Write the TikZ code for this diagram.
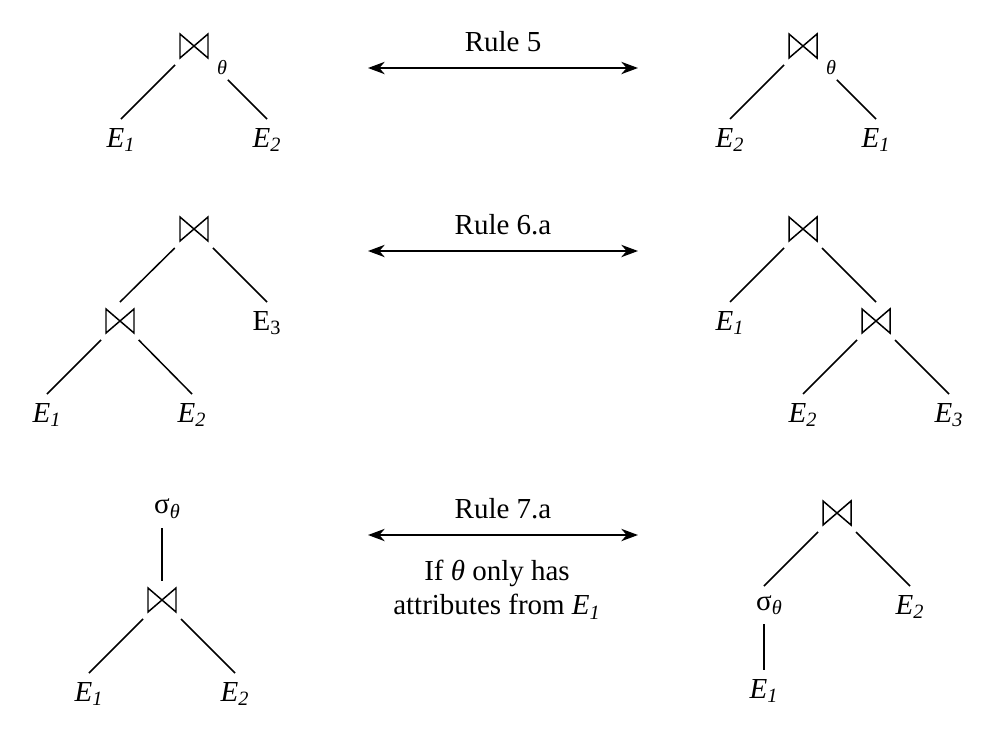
\documentclass[tikz,border=0pt]{standalone}
\usepackage{fontspec}
\setmainfont{Liberation Serif}
\usetikzlibrary{arrows.meta}

\newcommand\rel[2]{\textit{#1}\textsubscript{\textit{#2}}}
\newcommand\sel{σ\rlap{\textsubscript{\textit{θ}}}}
\newcommand\joinmark[1]{%
  \draw[tiemark] ([shift={(-14,-12)}]#1.center) -- ([shift={(-14,12)}]#1.center)
    -- ([shift={(14,-12)}]#1.center) -- ([shift={(14,12)}]#1.center) -- cycle;}

\begin{document}
\begin{tikzpicture}[
    x=0.02cm, y=-0.02cm,
    font=\fontsize{16.5}{19.5}\selectfont,
    joinop/.style={
        rectangle, minimum width=0.56cm, minimum height=0.48cm,
        inner sep=0pt, outer sep=0.14cm
    },
    leaf/.style={inner sep=0.18cm},
    cond/.style={font=\fontsize{11.5}{12}\selectfont\itshape, inner sep=0pt},
    tiemark/.style={line width=0.85pt, line join=miter},
    branch/.style={line width=0.85pt},
    equiv/.style={
        {Stealth[length=9.5pt,width=7pt,inset=3pt]}-{Stealth[length=9.5pt,width=7pt,inset=3pt]},
        line width=1.1pt
    },
    rulelabel/.style={above=3.5pt, inner sep=0.18cm}
]
\useasboundingbox (0,0) rectangle (994,741);

% --- rule 5: commutativity ---
\node[joinop] (ja) at (194,46) {};
\node[cond]   (ta) at (222,68) {θ};
\node[leaf, anchor=north] (a1) at (121,119) {\rel{E}{1}};
\node[leaf, anchor=north] (a2) at (267,119) {\rel{E}{2}};

\node[joinop] (jb) at (803,46) {};
\node[cond]   (tb) at (831,68) {θ};
\node[leaf, anchor=north] (b2) at (730,119) {\rel{E}{2}};
\node[leaf, anchor=north] (b1) at (876,119) {\rel{E}{1}};

\coordinate (la) at (368,68);
\coordinate (ra) at (638,68);

% --- rule 6.a: associativity ---
\node[joinop] (jc) at (194,229) {};
\node[joinop] (jd) at (120,321) {};
\node[leaf, anchor=north] (c3) at (267,302) {E\textsubscript{3}};
\node[leaf, anchor=north] (c1) at (47,394)  {\rel{E}{1}};
\node[leaf, anchor=north] (c2) at (192,394) {\rel{E}{2}};

\node[joinop] (je) at (803,229) {};
\node[joinop] (jf) at (876,321) {};
\node[leaf, anchor=north] (e1) at (730,302) {\rel{E}{1}};
\node[leaf, anchor=north] (e2) at (803,394) {\rel{E}{2}};
\node[leaf, anchor=north] (e3) at (949,394) {\rel{E}{3}};

\coordinate (lb) at (368,251);
\coordinate (rb) at (638,251);

% --- rule 7.a: pushing the selection down ---
\node[leaf, anchor=south] (sa) at (162,528) {\sel};
\node[joinop] (jg) at (162,600) {};
\node[leaf, anchor=north] (g1) at (89,673)  {\rel{E}{1}};
\node[leaf, anchor=north] (g2) at (235,673) {\rel{E}{2}};

\node[joinop] (jh) at (837,513) {};
\node[leaf, anchor=north] (sb) at (764,586) {\sel};
\node[leaf, anchor=north] (h2) at (910,586) {\rel{E}{2}};
\node[leaf, anchor=north] (h1) at (764,670) {\rel{E}{1}};

\coordinate (lc) at (368,535);
\coordinate (rc) at (638,535);
\node[align=center, anchor=north] (note) at (497,554)
    {If \textit{θ} only has\\attributes from \rel{E}{1}};

% --- join symbols ---
\foreach \j in {ja,jb,jc,jd,je,jf,jg,jh}
    \joinmark{\j};

% --- tree edges ---
\draw[branch] (ja) -- (a1.north);
\draw[branch, shorten <=0.42cm] (ja) -- (a2.north);
\draw[branch] (jb) -- (b2.north);
\draw[branch, shorten <=0.42cm] (jb) -- (b1.north);

\draw[branch] (jc) -- (jd.north);
\draw[branch] (jc) -- (c3.north);
\draw[branch] (jd) -- (c1.north);
\draw[branch] (jd) -- (c2.north);
\draw[branch] (je) -- (e1.north);
\draw[branch] (je) -- (jf.north);
\draw[branch] (jf) -- (e2.north);
\draw[branch] (jf) -- (e3.north);

\draw[branch] (sa) -- (jg);
\draw[branch] (jg) -- (g1.north);
\draw[branch] (jg) -- (g2.north);
\draw[branch] (jh) -- (sb.north);
\draw[branch] (jh) -- (h2.north);
\draw[branch] (sb) -- (h1);

% --- equivalence arrows ---
\draw[equiv] (la) -- node[rulelabel] {Rule 5} (ra);
\draw[equiv] (lb) -- node[rulelabel] {Rule 6.a} (rb);
\draw[equiv] (lc) -- node[rulelabel] {Rule 7.a} (rc);

\end{tikzpicture}
\end{document}
